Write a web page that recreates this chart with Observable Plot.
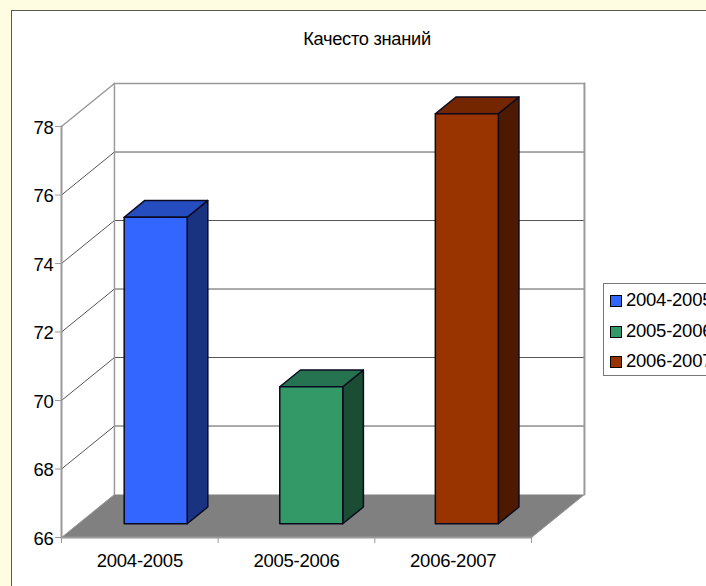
<!DOCTYPE html>
<html><head><meta charset="utf-8">
<script src="https://cdn.jsdelivr.net/npm/d3@7"></script>
<script src="https://cdn.jsdelivr.net/npm/@observablehq/plot@0.6"></script>
<style>
html,body{margin:0;padding:0;width:706px;height:586px;overflow:hidden;background:#fefde2;font-family:"Liberation Sans",sans-serif;color:#000}
#panel{position:absolute;left:11px;top:10px;width:720px;height:600px;background:#fff;border:1.5px solid #59594f;box-sizing:border-box}
#title{position:absolute;left:217px;width:300px;top:28px;text-align:center;font-size:18.3px;line-height:22px;letter-spacing:-.3px}
#chart{position:absolute;left:0;top:0}
#chart svg{background:transparent;overflow:visible;display:block}
#chart text{letter-spacing:-.25px}
#legend{position:absolute;left:603px;top:283px;width:130px;height:93px;border:1px solid #777;box-sizing:border-box;background:#fff}
.row{position:absolute;left:6px;height:22px;line-height:22px;font-size:18.5px;letter-spacing:-.25px;white-space:nowrap}
.sw{display:inline-block;width:10px;height:10px;border:1px solid #000;margin-right:4px;vertical-align:-1px}
</style></head>
<body>
<div id="panel"></div>
<div id="chart"></div>
<div id="title">Качесто знаний</div>
<div id="legend"></div>
<script>
const periods = ["2004-2005", "2005-2006", "2006-2007"];
const values = [74.95, 70, 77.97];
const frontColors = ["#3366ff", "#339966", "#993300"];
const sideColors = ["#1a3380", "#1a4d33", "#4d1a00"];
const topColors = ["#264dbf", "#267352", "#732600"];
const yTicks = [66, 68, 70, 72, 74, 76, 78];
const yMin = 66, yMax = 78;

// oblique projection of the chart's depth axis into category / value units
const depthX = 0.338, depthY = 1.255;
const barStart = 0.292, barStep = 0.993, barWidth = 0.402, depthFront = 0.32, depthBack = 0.71;
const P = (cat, val, d) => ({x: cat + d * depthX, y: val + d * depthY});
const ink = "#0a0a20";

const poly = (pts, fill, stroke, sw) => Plot.line([...pts, pts[0]], {x: "x", y: "y", fill, stroke, strokeWidth: sw, strokeLinejoin: "round", curve: "linear"});
const seg = (a, b, stroke, sw) => Plot.line([a, b], {x: "x", y: "y", stroke, strokeWidth: sw, curve: "linear"});

const n = periods.length;
const marks = [];
const wall = "#9a9a9a", grid = "#555555";

// floor
marks.push(poly([P(0, yMin, 0), P(n, yMin, 0), P(n, yMin, 1), P(0, yMin, 1)], "#808080", "none", 0));
// gridlines on the side and back walls
yTicks.filter(t => t > yMin && t < yMax).forEach(t => {
  marks.push(seg(P(0, t, 0), P(0, t, 1), grid, 1));
  marks.push(seg(P(0, t, 1), P(n, t, 1), grid, 1));
});
// wall frame
marks.push(seg(P(0, yMax, 0), P(0, yMax, 1), wall, 1.5));
marks.push(seg(P(0, yMax, 1), P(n, yMax, 1), wall, 1.5));
marks.push(seg(P(0, yMin, 1), P(0, yMax, 1), wall, 1.5));
marks.push(seg(P(n, yMin, 1), P(n, yMax, 1), wall, 2));
marks.push(seg(P(0, yMin, 0), P(0, yMin, 1), wall, 1));
marks.push(seg(P(n, yMin, 0), P(n, yMin, 1), wall, 1));
marks.push(seg(P(0, yMin, 0), P(0, yMax, 0), wall, 2));
marks.push(seg(P(0, yMin, 0), P(n, yMin, 0), wall, 2));

// bars
values.forEach((v, i) => {
  const x0 = i * barStep + barStart, x1 = x0 + barWidth;
  marks.push(poly([P(x1, yMin, depthFront), P(x1, yMin, depthBack), P(x1, v, depthBack), P(x1, v, depthFront)], sideColors[i], ink, 1.5));
  marks.push(poly([P(x0, v, depthFront), P(x1, v, depthFront), P(x1, v, depthBack), P(x0, v, depthBack)], topColors[i], ink, 1.5));
  marks.push(poly([P(x0, yMin, depthFront), P(x1, yMin, depthFront), P(x1, v, depthFront), P(x0, v, depthFront)], frontColors[i], ink, 1.5));
});

// axes
marks.push(Plot.axisY({ticks: yTicks, anchor: "left", tickSize: 6, stroke: wall, label: null, tickFormat: () => ""}));
marks.push(Plot.axisY({ticks: yTicks, anchor: "left", tickSize: 0, tickPadding: 8, dy: 1.5, label: null, fontSize: 18.5, tickFormat: d => d}));
marks.push(Plot.axisX({ticks: d3.range(n + 1), anchor: "bottom", tickSize: 6, stroke: wall, label: null, tickFormat: () => ""}));
marks.push(Plot.axisX({ticks: d3.range(n).map(i => i + 0.5), anchor: "bottom", tickSize: 0, tickPadding: 16, label: null, fontSize: 18.5, tickFormat: d => periods[Math.floor(d)]}));

const chart = Plot.plot({
  width: 706, height: 586,
  marginLeft: 61, marginRight: 175, marginTop: 126, marginBottom: 49,
  style: {fontFamily: '"Liberation Sans", sans-serif', color: "#000", background: "transparent"},
  x: {type: "linear", domain: [0, n]},
  y: {type: "linear", domain: [yMin, yMax]},
  marks
});
document.getElementById("chart").appendChild(chart);

const legend = document.getElementById("legend");
periods.forEach((p, i) => {
  const r = document.createElement("div");
  r.className = "row";
  r.style.top = (5 + i * 30.7) + "px";
  const s = document.createElement("span");
  s.className = "sw";
  s.style.background = frontColors[i];
  r.appendChild(s);
  r.appendChild(document.createTextNode(p));
  legend.appendChild(r);
});
</script>
</body></html>
